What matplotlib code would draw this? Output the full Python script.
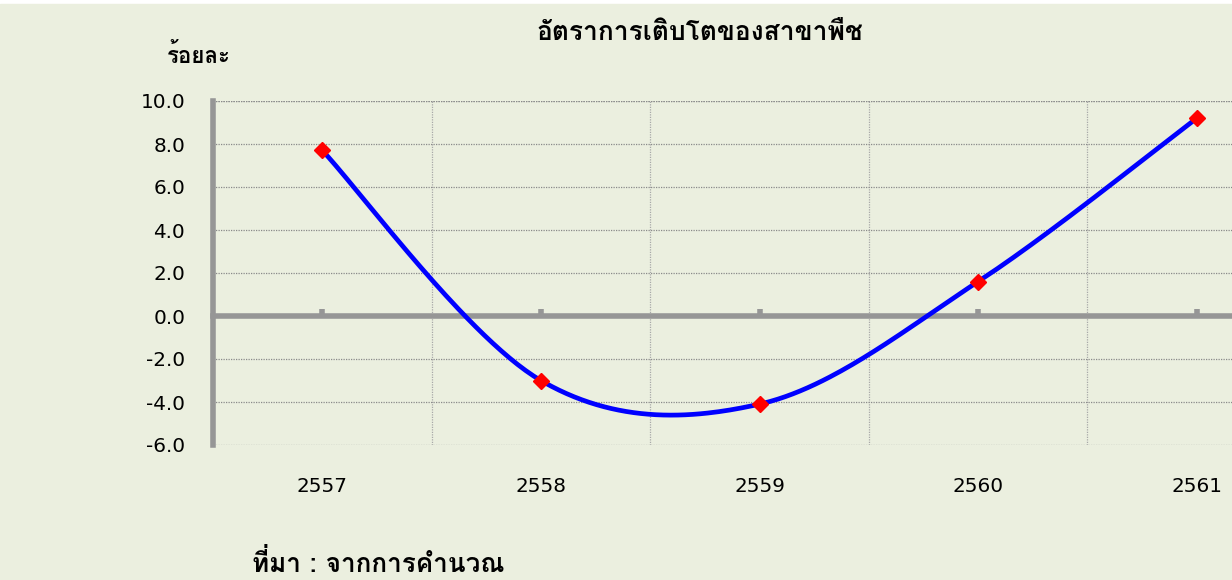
import matplotlib.pyplot as plt
import numpy as np
from matplotlib import font_manager, ft2font
from matplotlib.patches import Rectangle

YEARS = ["2557", "2558", "2559", "2560", "2561"]
GROWTH = [7.7, -3.0, -4.1, 1.6, 9.2]
Y_TICKS = [-6.0, -4.0, -2.0, 0.0, 2.0, 4.0, 6.0, 8.0, 10.0]

TITLE = "อัตราการเติบโตของสาขาพืช"
Y_UNIT = "ร้อยละ"
SOURCE = "ที่มา : จากการคำนวณ"

BG = "#EBEFDF"
AXIS_GRAY = "#969696"


def thai_family():
    # pick any installed font that actually has Thai glyphs
    for f in font_manager.fontManager.ttflist:
        try:
            if 0x0E2D in ft2font.FT2Font(f.fname).get_charmap():
                return f.name
        except Exception:
            continue
    return None


def smooth_curve(xs, ys, n=60):
    # Excel-style smoothed line: cubic Bezier segments with 1/6 tangents
    pts = np.column_stack([xs, ys]).astype(float)
    out = [pts[0]]
    for i in range(len(pts) - 1):
        p0 = pts[i - 1] if i > 0 else pts[i]
        p1, p2 = pts[i], pts[i + 1]
        p3 = pts[i + 2] if i + 2 < len(pts) else pts[i + 1]
        c1 = p1 + (p2 - p0) / 6
        c2 = p2 - (p3 - p1) / 6
        t = np.linspace(0, 1, n)[1:, None]
        seg = (1 - t) ** 3 * p1 + 3 * (1 - t) ** 2 * t * c1 + 3 * (1 - t) * t ** 2 * c2 + t ** 3 * p2
        out.extend(seg)
    out = np.array(out)
    return out[:, 0], out[:, 1]


def main() -> None:
    thai = thai_family()
    families = ([thai] if thai else []) + ["DejaVu Sans"]

    W, H = 1232, 580
    fig = plt.figure(figsize=(W / 100, H / 100), dpi=100, facecolor="white")
    fig.patches.append(Rectangle((0, 0), 1, 576 / H, transform=fig.transFigure, color=BG, zorder=-10))

    left, right, top, bottom = 213, 1306, 101, 445
    ax = fig.add_axes([left / W, 1 - bottom / H, (right - left) / W, (bottom - top) / H])
    ax.set_facecolor(BG)
    ax.patch.set_alpha(0)

    for side in ["top", "right"]:
        ax.spines[side].set_visible(False)
    ax.spines["left"].set_color(AXIS_GRAY)
    ax.spines["left"].set_linewidth(4)
    ax.spines["bottom"].set_position(("data", 0))
    ax.spines["bottom"].set_color(AXIS_GRAY)
    ax.spines["bottom"].set_linewidth(4)

    x = np.arange(len(YEARS))
    ax.set_xlim(-0.5, len(YEARS) - 0.5)
    ax.set_ylim(-6, 10)

    ax.set_yticks(Y_TICKS)
    ax.set_yticklabels([f"{v:.1f}" for v in Y_TICKS])
    ax.tick_params(axis="y", length=0, pad=20, labelsize=14.4)

    ax.set_xticks(x)
    ax.set_xticklabels(YEARS)
    ax.set_xticks(x[:-1] + 0.5, minor=True)
    ax.tick_params(axis="x", which="major", direction="in", length=5, width=4, color=AXIS_GRAY,
                   pad=116, labelsize=14.4)
    ax.tick_params(axis="x", which="minor", length=0)

    ax.grid(axis="y", which="major", color="#8a8a8a", linestyle=(0, (1, 1)), linewidth=0.9)
    ax.grid(axis="x", which="minor", color="#a8a8a8", linestyle=(0, (1, 1)), linewidth=0.9)
    ax.axhline(10, color="#8a8a8a", linestyle=(0, (1, 1)), linewidth=0.9, zorder=1)

    sx, sy = smooth_curve(x, GROWTH)
    ax.plot(sx, sy, color="#0000FF", linewidth=3.4, zorder=3, solid_capstyle="round")
    ax.plot(x, GROWTH, linestyle="none", marker="D", markersize=8.5, color="#FF0000", zorder=4)

    fig.text(700 / W, 1 - 33 / H, TITLE, ha="center", va="center", fontsize=19, fontweight="bold", family=families)
    fig.text(167 / W, 1 - 55 / H, Y_UNIT, ha="left", va="center", fontsize=16, fontweight="bold", family=families)
    fig.text(252 / W, 1 - 563 / H, SOURCE, ha="left", va="center", fontsize=18.8, fontweight="bold", family=families)

    fig.savefig("out.png", dpi=100, facecolor=fig.get_facecolor())


if __name__ == "__main__":
    main()
